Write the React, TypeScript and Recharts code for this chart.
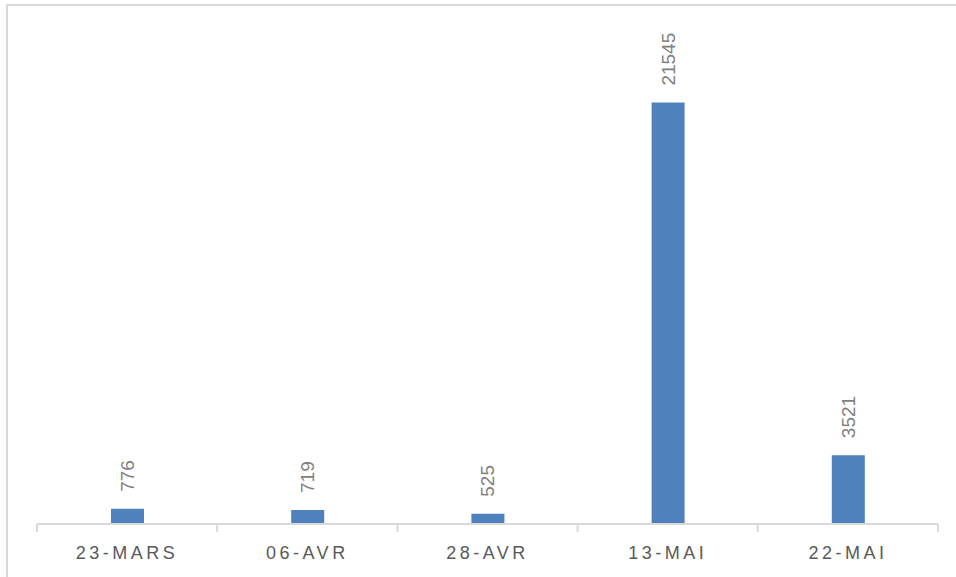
import React from "react";
import { BarChart, Bar, XAxis, YAxis, LabelList } from "recharts";

const categories = ["23-MARS", "06-AVR", "28-AVR", "13-MAI", "22-MAI"];
const values = [776, 719, 525, 21545, 3521];
const yMax = 25000;

const chartData = categories.map((label, i) => ({ label, value: values[i] }));

const W = 956;
const H = 577;
const margin = { top: 35, right: 18, left: 37, bottom: 0 };
const axisHeight = 53;
const band = (W - margin.left - margin.right) / categories.length;

const CategoryTick = (props: any) => {
    const { x, payload, index } = props;
    const axisY = H - margin.bottom - axisHeight;
    return (
        <g>
            <line x1={x - band / 2} x2={x - band / 2} y1={axisY} y2={axisY + 8} stroke="#d9d9d9" strokeWidth={2} />
            {index === categories.length - 1 && (
                <line x1={x + band / 2} x2={x + band / 2} y1={axisY} y2={axisY + 8} stroke="#d9d9d9" strokeWidth={2} />
            )}
            <text
                x={x}
                y={axisY + 29}
                textAnchor="middle"
                dominantBaseline="central"
                fill="#595959"
                fontSize={18}
                letterSpacing={3.5}
                fontFamily="'Liberation Sans', Arial, sans-serif"
            >
                {payload.value}
            </text>
        </g>
    );
};

const RotatedLabel = (props: any) => {
    const { x, y, width, value } = props;
    const cx = x + width / 2;
    const cy = y - 17;
    return (
        <text
            x={cx}
            y={cy}
            transform={`rotate(-90, ${cx}, ${cy})`}
            textAnchor="start"
            dominantBaseline="central"
            fill="#7f7f7f"
            fontSize={19}
            fontFamily="'Liberation Sans', Arial, sans-serif"
        >
            {value}
        </text>
    );
};

export default function App() {
    return (
        <div style={{ position: "absolute", left: 0, top: 0, width: W, height: H, background: "#fff" }}>
            {/* chart frame */}
            <div
                style={{
                    position: "absolute",
                    left: 6,
                    top: 4,
                    right: 0,
                    bottom: 0,
                    borderLeft: "2px solid #d9d9d9",
                    borderTop: "2px solid #d9d9d9",
                }}
            />
            <div style={{ position: "absolute", left: 0, top: 0 }}>
                <BarChart width={W} height={H} data={chartData} margin={margin}>
                    <XAxis
                        dataKey="label"
                        height={axisHeight}
                        axisLine={{ stroke: "#d9d9d9", strokeWidth: 2 }}
                        tickLine={false}
                        tick={<CategoryTick />}
                        interval={0}
                    />
                    <YAxis hide domain={[0, yMax]} />
                    <Bar dataKey="value" fill="#4f81bd" barSize={33} isAnimationActive={false}>
                        <LabelList dataKey="value" content={<RotatedLabel />} />
                    </Bar>
                </BarChart>
            </div>
        </div>
    );
}
